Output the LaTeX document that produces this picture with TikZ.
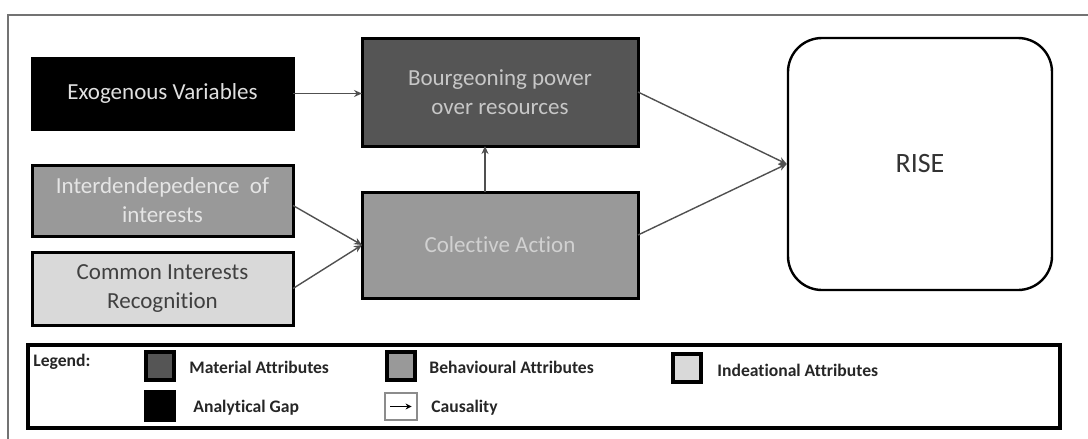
\documentclass[tikz,border=0pt]{standalone}
\usepackage{fontspec}
\setmainfont[Ligatures=NoCommon]{Carlito}
\usetikzlibrary{arrows.meta}
\definecolor{dkg}{HTML}{555555}
\definecolor{mdg}{HTML}{999999}
\definecolor{ltg}{HTML}{D9D9D9}
\definecolor{arr}{HTML}{505050}
\tikzset{
  box/.style={draw=black, line width=1.5pt, inner sep=2pt, outer sep=0pt, align=center,
    font=\fontsize{11.5}{14.5}\selectfont},
  conn/.style={draw=arr, line width=0.7pt, -{Stealth[length=4pt,width=3.5pt]}},
  legsq/.style={draw=black, line width=2pt, minimum width=14pt, minimum height=14pt, inner sep=0pt},
  legtxt/.style={anchor=west, inner sep=0pt, font=\fontsize{8.8}{10}\selectfont\bfseries, text=black!85},
}
\begin{document}
\begin{tikzpicture}[x=0.5pt,y=-0.5pt]
\useasboundingbox (0,0) rectangle (1088,439);
% outer frame (cropped)
\draw[draw=black!55, line width=1pt] (8,439) -- (8,15) -- (1088,15);

\node[box, fill=black, text=black!12, minimum width=130.5pt, minimum height=35.5pt] (exo) at (162.5,93.5) {Exogenous Variables};
\node[box, fill=dkg, text=black!22, minimum width=138pt, minimum height=54pt] (bour) at (500,92) {Bourgeoning power\\over resources};
\node[box, fill=mdg, text=black!10, minimum width=130.5pt, minimum height=35.5pt] (inter) at (162.5,200.5) {Interdendepedence\ \ of\\interests};
\node[box, fill=ltg, text=black!75, minimum width=130.5pt, minimum height=36.5pt] (common) at (162.5,288.5) {Common Interests\\Recognition};
\node[box, fill=mdg, text=black!18, minimum width=138pt, minimum height=53pt] (coll) at (500,245) {Colective Action};
\node[draw=black, line width=1.2pt, rounded corners=17pt, minimum width=132pt, minimum height=126pt,
  font=\fontsize{14}{16}\selectfont, text=black!80] (rise) at (920,164) {RISE};

\draw[conn] (exo.east) -- (exo.east -| bour.west);
\draw[conn] ([xshift=-7.5pt]coll.north) -- ([xshift=-7.5pt]bour.south);
\draw[conn] ([yshift=-2.5pt]inter.east) -- (coll.west);
\draw[conn] (common.east) -- (coll.west);
\draw[conn] (bour.east) -- (rise.west);
\draw[conn] ([yshift=5pt]coll.east) -- (rise.west);

% legend
\node[draw=black, line width=2pt, minimum width=516pt, minimum height=41.5pt, inner sep=0pt] (legend) at (544,386.5) {};
\node[legtxt] (leglab) at (33,362) {Legend:};
\node[legsq, fill=dkg] (sq1) at (160,366) {};
\node[legtxt] (t1) at (189,367) {Material Attributes};
\node[legsq, fill=mdg] (sq2) at (401,366) {};
\node[legtxt] (t2) at (429,367) {Behavioural Attributes};
\node[legsq, fill=ltg] (sq3) at (686.5,368) {};
\node[legtxt] (t3) at (717,370) {Indeational Attributes};
\node[legsq, fill=black] (sq4) at (160,405.5) {};
\node[legtxt] (t4) at (193,408) {Analytical Gap};
\node[draw=black!45, line width=0.6pt, minimum width=16pt, minimum height=13.5pt, inner sep=0pt] (sq5) at (401,406.5) {};
\draw[draw=black, line width=0.8pt, -{Stealth[length=3pt,width=3pt]}] ([xshift=3pt]sq5.west) -- ([xshift=-3pt]sq5.east);
\node[legtxt] (t5) at (431,408) {Causality};
\end{tikzpicture}
\end{document}
